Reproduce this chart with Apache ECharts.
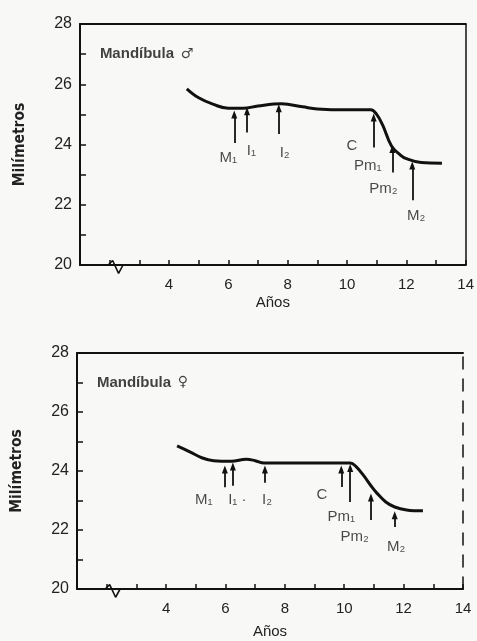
<!DOCTYPE html>
<html><head><meta charset="utf-8">
<script src="https://cdn.jsdelivr.net/npm/echarts@6/dist/echarts.min.js"></script>
<style>html,body{margin:0;padding:0;background:#f8f9f7;}#c{width:477px;height:641px;}</style>
</head><body><div id="c"></div>
<script>
// ---- data ----
const xTickLabels = [4, 6, 8, 10, 12, 14];
const yTickLabels = [20, 22, 24, 26, 28];
const maleCurve = [[4.6,25.85],[5.0,25.55],[5.5,25.33],[6.0,25.2],[6.5,25.2],[7.0,25.28],[7.8,25.35],[8.5,25.25],[9.0,25.18],[10.0,25.15],[10.8,25.15],[11.0,25.0],[11.2,24.65],[11.5,23.95],[11.8,23.65],[12.0,23.53],[12.5,23.4],[13.2,23.38]];
const femaleCurve = [[4.37,24.85],[4.8,24.65],[5.2,24.45],[5.6,24.35],[6.2,24.33],[6.7,24.4],[7.0,24.35],[7.3,24.27],[8.5,24.27],[10.2,24.27],[10.4,24.15],[10.65,23.85],[10.9,23.5],[11.1,23.25],[11.4,22.95],[11.7,22.78],[12.1,22.68],[12.65,22.65]];
// arrows: [x, yFrom, yTo]
const maleArrows = [[6.2,24.05,25.0],[6.63,24.4,25.1],[7.7,24.35,25.2],[10.9,23.9,24.9],[11.53,23.07,23.85],[12.2,22.15,23.3]];
const femaleArrows = [[5.98,23.45,24.05],[6.25,23.5,24.15],[7.33,23.6,24.05],[9.9,23.46,24.05],[10.2,22.95,24.1],[10.9,22.34,23.1],[11.7,22.1,22.5]];
// labels: [x, y, text]
const maleLabels = [[6.0,23.55,'M₁'],[6.78,23.8,'I₁'],[7.9,23.73,'I₂'],[10.17,23.97,'C'],[10.7,23.3,'Pm₁'],[11.23,22.53,'Pm₂'],[12.33,21.63,'M₂']];
const femaleLabels = [[5.27,23.02,'M₁'],[6.4,23.02,'I₁ ·'],[7.4,23.02,'I₂'],[9.25,23.19,'C'],[9.9,22.44,'Pm₁'],[10.35,21.76,'Pm₂'],[11.75,21.42,'M₂']];
const titles = [[1.67,27.0,'Mandíbula','♂'],[1.67,27.0,'Mandíbula','♀']];
const breakMark = [[1.95,20],[2.1,20.15],[2.3,19.72],[2.45,20]];

const FONT = 'Liberation Sans';
const grids = [
  {left:80, right:7, top:24, height:241},
  {left:77, right:14, top:353, height:236}
];
function xAx(g, pos, showLabels, name, gap){
  return {type:'value', gridIndex:g, position:pos, min:1, max:14, interval:1,
    axisLine:{show:true, onZero:false, lineStyle:{color:'#111', width:2}},
    axisTick:{show:showLabels, inside:true, length:5, lineStyle:{color:'#111', width:1.5}},
    axisLabel:{show:showLabels, margin:12, color:'#222', fontFamily:FONT, fontSize:15,
      formatter:v=> xTickLabels.indexOf(v)>=0 ? String(v) : ''},
    splitLine:{show:false},
    name: name||'', nameLocation:'middle', nameGap:gap||0,
    nameTextStyle:{fontFamily:FONT, fontSize:15, color:'#222'}};
}
function yAx(g, pos, showLabels, dashed){
  return {type:'value', gridIndex:g, position:pos, min:20, max:28, interval:1,
    axisLine:{show:true, onZero:false, lineStyle:{color:'#111', width: showLabels?2:1.5, type: dashed?[12,10]:'solid'}},
    axisTick:{show:showLabels, inside:true, length:6, lineStyle:{color:'#111', width:1.5}},
    axisLabel:{show:showLabels, margin:8, color:'#222', fontFamily:FONT, fontSize:16,
      formatter:v=> yTickLabels.indexOf(v)>=0 ? String(v) : ''},
    splitLine:{show:false},
    name: showLabels?'Milímetros':'', nameLocation:'middle', nameGap:52,
    nameTextStyle:{fontFamily:"'DejaVu Sans Condensed', 'Liberation Sans', sans-serif", fontSize:15.5, fontWeight:'bold', color:'#222'}};
}
function panelSeries(g, curve, arrows, labels, title){
  const xi = g*2, yi = g*2;
  return [
    {type:'line', xAxisIndex:xi, yAxisIndex:yi, data:curve, smooth:0.4, symbol:'none',
      lineStyle:{color:'#111', width:3},
      markLine:{silent:true, symbol:['none','triangle'], symbolSize:[6,8], label:{show:false},
        lineStyle:{color:'#111', width:1.8, type:'solid'},
        data: arrows.map(a=>[{coord:[a[0],a[1]]},{coord:[a[0],a[2]]}])}},
    {type:'line', xAxisIndex:xi, yAxisIndex:yi, data:breakMark, symbol:'none', clip:false, z:5,
      lineStyle:{color:'#111', width:1.6}},
    {type:'scatter', xAxisIndex:xi, yAxisIndex:yi, symbolSize:0,
      data: labels.map(l=>({value:[l[0],l[1]], label:{show:true, position:'inside', formatter:l[2],
        fontFamily:FONT, fontSize:15, color:'#1a1a1a'}}))},
    {type:'scatter', xAxisIndex:xi, yAxisIndex:yi, symbolSize:0,
      data:[{value:[title[0],title[1]], label:{show:true, position:'right', distance:0,
        formatter:'{a|'+title[2]+'}  {b|'+title[3]+'}',
        rich:{a:{fontFamily:FONT, fontSize:15, fontWeight:'bold', color:'#111'},
              b:{fontFamily:'DejaVu Sans', fontSize:14, color:'#111'}}}}]}
  ];
}
const chart = echarts.init(document.getElementById('c'));
chart.setOption({
  backgroundColor:'#f8f9f7',
  animation:false,
  grid:grids,
  xAxis:[xAx(0,'bottom',true,'Años',30), xAx(0,'top',false), xAx(1,'bottom',true,'Años',35), xAx(1,'top',false)],
  yAxis:[yAx(0,'left',true), yAx(0,'right',false,false), yAx(1,'left',true), yAx(1,'right',false,true)],
  series:[].concat(
    panelSeries(0, maleCurve, maleArrows, maleLabels, titles[0]),
    panelSeries(1, femaleCurve, femaleArrows, femaleLabels, titles[1])
  )
});
</script></body></html>
